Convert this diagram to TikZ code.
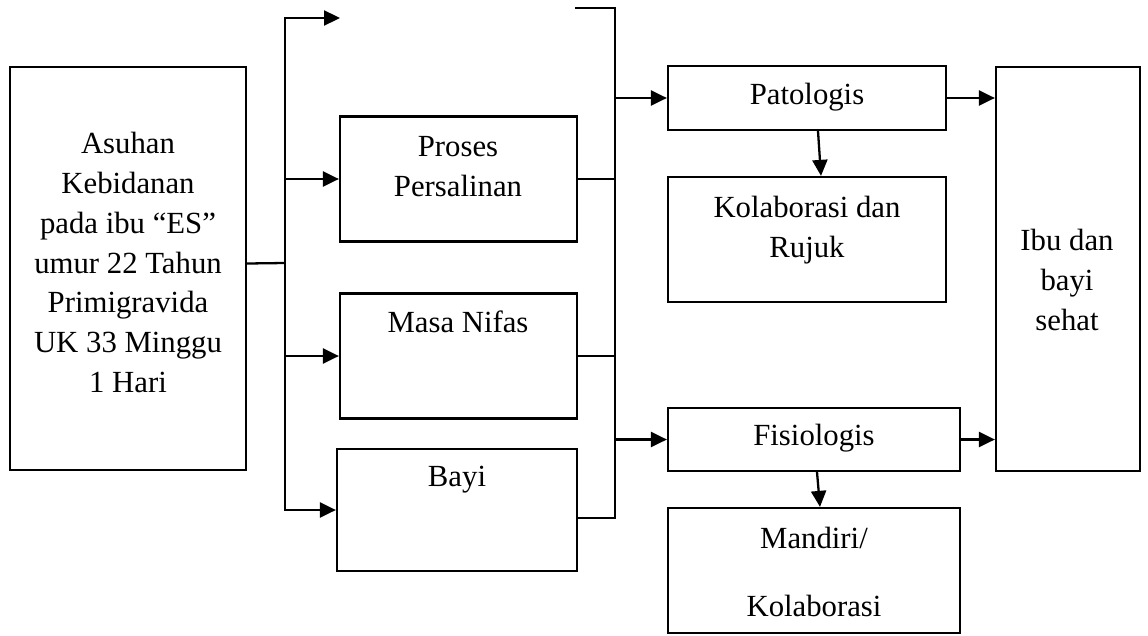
\documentclass[tikz,border=0pt]{standalone}
\usepackage{fontspec}
\setmainfont{Liberation Serif}
\usetikzlibrary{arrows.meta}
\tikzset{
    kotak/.style={draw, line width=1.3pt, inner sep=0pt},
    teks/.style={align=center, font=\fontsize{17.5}{22.7}\selectfont},
    garis/.style={line width=1.3pt},
    panah/.style={line width=1.3pt, -{Triangle[length=0.32cm,width=0.3cm]}},
    panahdua/.style={line width=1.3pt, {Triangle[length=0.32cm,width=0.3cm]}-{Triangle[length=0.32cm,width=0.3cm]}}
}
\begin{document}
\begin{tikzpicture}[x=0.02cm,y=-0.02cm]
    \useasboundingbox (0,0) rectangle (1148,635);

    % Kotak-kotak
    \node[kotak, minimum width=4.72cm, minimum height=8.06cm] (asuhan) at (128,268.5) {};
    \node[kotak, minimum width=4.74cm, minimum height=2.5cm] (proses) at (458.5,179) {};
    \node[kotak, minimum width=4.74cm, minimum height=2.5cm] (nifas) at (458.5,356) {};
    \node[kotak, minimum width=4.8cm, minimum height=2.44cm] (bayi) at (457,510) {};
    \node[kotak, minimum width=5.56cm, minimum height=1.28cm] (patologis) at (807,98) {};
    \node[kotak, minimum width=5.56cm, minimum height=2.5cm] (kolaborasi) at (807,239.5) {};
    \node[kotak, minimum width=5.84cm, minimum height=1.26cm] (fisiologis) at (814,439.5) {};
    \node[kotak, minimum width=5.84cm, minimum height=2.5cm] (mandiri) at (814,570.5) {};
    \node[kotak, minimum width=2.88cm, minimum height=8.08cm] (sehat) at (1068,269) {};

    % Teks
    \node[teks] at (128,262.5) {Asuhan\\Kebidanan\\pada ibu “ES”\\umur 22 Tahun\\Primigravida\\UK 33 Minggu\\1 Hari};
    \node[teks] at (458,167) {Proses\\Persalinan};
    \node[teks] at (458,322) {Masa Nifas};
    \node[teks] at (457,480) {Bayi};
    \node[teks] at (807,97) {Patologis};
    \node[teks] at (807,230) {Kolaborasi dan\\Rujuk};
    \node[teks] at (814,438) {Fisiologis};
    \node[teks] at (814,572) {Mandiri/\\[16pt]Kolaborasi};
    \node[teks] at (1067,280) {Ibu dan\\bayi\\sehat};

    % Cabang kiri
    \coordinate (cabang) at (285,263);
    \coordinate (kiriatas) at (285,18);
    \coordinate (ujungatas) at (340,18);
    \coordinate (kiribawah) at (kiriatas |- bayi.west);
    \draw[garis] ([yshift=0.1cm]asuhan.east) -- (cabang);
    \draw[panahdua] (ujungatas) -- (kiriatas) -- (kiribawah) -- (bayi.west);
    \draw[panah] (kiriatas |- proses.west) -- (proses.west);
    \draw[panah] (kiriatas |- nifas.west) -- (nifas.west);

    % Cabang kanan
    \coordinate (stubatas) at (575,8);
    \coordinate (kananatas) at (615,8);
    \coordinate (kananbawah) at (615,518);
    \draw[garis] (stubatas) -- (kananatas) -- (kananbawah) -- (bayi.east |- kananbawah);
    \draw[garis] (proses.east) -- (kananatas |- proses.east);
    \draw[garis] (nifas.east) -- (kananatas |- nifas.east);
    \draw[panah] (kananatas |- patologis.west) -- (patologis.west);
    \draw[panah] (kananatas |- fisiologis.west) -- (fisiologis.west);

    % Ke bawah dan ke kanan
    \draw[panah] ([xshift=0.22cm]patologis.south) -- ([xshift=0.28cm]kolaborasi.north);
    \draw[panah] ([xshift=0.06cm]fisiologis.south) -- ([xshift=0.12cm]mandiri.north);
    \draw[panah] (patologis.east) -- (sehat.west |- patologis.east);
    \draw[panah] (fisiologis.east) -- (sehat.west |- fisiologis.east);
\end{tikzpicture}
\end{document}
